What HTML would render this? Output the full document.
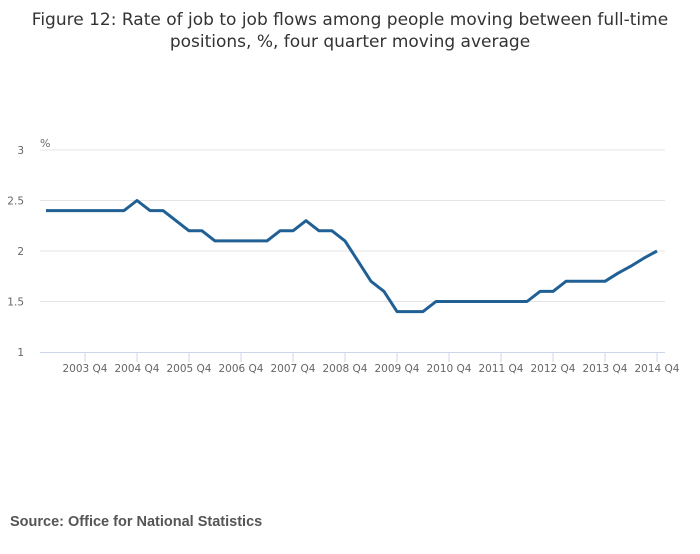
<!DOCTYPE html>
<html><head><meta charset="utf-8"><style>
body{margin:0;background:#fff;font-family:"Liberation Sans",sans-serif}
</style></head><body>
<svg width="700" height="549" xmlns="http://www.w3.org/2000/svg">
<text x="350" y="25" text-anchor="middle" font-size="17" font-family="DejaVu Sans, sans-serif" fill="#333">Figure 12: Rate of job to job flows among people moving between full-time</text>
<text x="350" y="47" text-anchor="middle" font-size="17" font-family="DejaVu Sans, sans-serif" fill="#333">positions, %, four quarter moving average</text>
<text x="40" y="147" font-size="11" font-family="DejaVu Sans, sans-serif" fill="#666">%</text>
<g id="grid"></g>
<g id="xaxis"></g>
<path id="line" fill="none" stroke="#206095" stroke-width="3" stroke-linejoin="round"/>
<text x="10" y="526" font-size="14.5" font-weight="bold" fill="#555">Source: Office for National Statistics</text>
</svg>
<script>
const values=[2.4,2.4,2.4,2.4,2.4,2.4,2.4,2.5,2.4,2.4,2.3,2.2,2.2,2.1,2.1,2.1,2.1,2.1,2.2,2.2,2.3,2.2,2.2,2.1,1.9,1.7,1.6,1.4,1.4,1.4,1.5,1.5,1.5,1.5,1.5,1.5,1.5,1.5,1.6,1.6,1.7,1.7,1.7,1.7,1.78,1.85,1.93,2.0];
const yTicks=[1,1.5,2,2.5,3];
const yTickLabels=["1","1.5","2","2.5","3"];
const xTickLabels=["2003 Q4","2004 Q4","2005 Q4","2006 Q4","2007 Q4","2008 Q4","2009 Q4","2010 Q4","2011 Q4","2012 Q4","2013 Q4","2014 Q4"];
const xTickIndex=[3,7,11,15,19,23,27,31,35,39,43,47];
const NS="http://www.w3.org/2000/svg";
function xs(i){return 46+i*(611/47);}
function ys(v){return 352-(v-1)*101;}
const grid=document.getElementById('grid');
yTicks.forEach((t,k)=>{
  if(t!==1){const l=document.createElementNS(NS,'line');
  l.setAttribute('x1',40);l.setAttribute('x2',665);l.setAttribute('y1',ys(t));l.setAttribute('y2',ys(t));
  l.setAttribute('stroke','#e4e4e4');
  
  
  grid.appendChild(l);}
  const tx=document.createElementNS(NS,'text');
  tx.setAttribute('x',24);tx.setAttribute('y',ys(t)+4);tx.setAttribute('text-anchor','end');
  tx.setAttribute('font-size','10.5');tx.setAttribute('font-family','DejaVu Sans, sans-serif');tx.setAttribute('fill','#666');tx.textContent=yTickLabels[k];
  
  
  grid.appendChild(tx);
});
const xa=document.getElementById('xaxis');
const ax=document.createElementNS(NS,'line');
ax.setAttribute('x1',40);ax.setAttribute('x2',665);ax.setAttribute('y1',352.5);ax.setAttribute('y2',352.5);ax.setAttribute('stroke','#ccd6eb');


xa.appendChild(ax);
xTickLabels.forEach((lab,k)=>{
  const x=xs(xTickIndex[k]);
  const t=document.createElementNS(NS,'line');
  t.setAttribute('x1',x);t.setAttribute('x2',x);t.setAttribute('y1',352);t.setAttribute('y2',362);t.setAttribute('stroke','#ccd6eb');
  
  
  xa.appendChild(t);
  const tx=document.createElementNS(NS,'text');
  tx.setAttribute('x',x);tx.setAttribute('y',372);tx.setAttribute('text-anchor','middle');
  tx.setAttribute('font-size','10.5');tx.setAttribute('font-family','DejaVu Sans, sans-serif');tx.setAttribute('fill','#666');tx.textContent=lab;
  
  
  xa.appendChild(tx);
});
document.getElementById('line').setAttribute('d',values.map((v,i)=>(i?'L':'M')+xs(i).toFixed(1)+','+ys(v).toFixed(1)).join(''));
</script>
</body></html>
